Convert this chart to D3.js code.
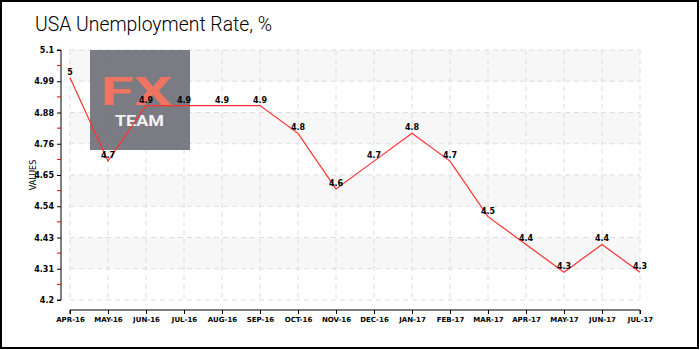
<!DOCTYPE html>
<html>
<head>
<meta charset="utf-8">
<script src="https://cdn.jsdelivr.net/npm/d3@7"></script>
<style>
  html, body { margin: 0; padding: 0; background: #fff; }
  svg text { font-family: "DejaVu Sans", sans-serif; }
</style>
</head>
<body>
<svg id="chart" width="700" height="350"></svg>
<script>
// Monthly US unemployment rate, April 2016 – July 2017
const months = ["APR-16","MAY-16","JUN-16","JUL-16","AUG-16","SEP-16","OCT-16","NOV-16",
                "DEC-16","JAN-17","FEB-17","MAR-17","APR-17","MAY-17","JUN-17","JUL-17"];
const rates = [5, 4.7, 4.9, 4.9, 4.9, 4.9, 4.8, 4.6, 4.7, 4.8, 4.7, 4.5, 4.4, 4.3, 4.4, 4.3];
const yTicks = [4.2, 4.3125, 4.425, 4.5375, 4.65, 4.7625, 4.875, 4.9875, 5.1];
const yTickLabels = ["4.2","4.31","4.43","4.54","4.65","4.76","4.88","4.99","5.1"];

const svg = d3.select("#chart");
const plotLeft = 70, plotRight = 640, plotTop = 50, plotBottom = 300;

const x = d3.scalePoint().domain(months).range([plotLeft, plotRight]);
const y = d3.scaleLinear().domain([4.2, 5.1]).range([plotBottom, plotTop]);

// outer frame
svg.append("rect").attr("x", 1).attr("y", 1).attr("width", 697).attr("height", 347)
  .attr("fill", "#fff").attr("stroke", "#000").attr("stroke-width", 2);

// title
svg.append("text").attr("x", 35).attr("y", 31)
  .style("font-family", "Roboto, sans-serif").style("font-weight", 300)
  .style("font-size", "20px").attr("fill", "#000")
  .attr("textLength", 237).attr("lengthAdjust", "spacingAndGlyphs")
  .text("USA Unemployment Rate, %");

// alternating bands between y ticks (topmost band shaded)
const bands = d3.range(yTicks.length - 1).map(i => [yTicks[i], yTicks[i + 1], i]);
svg.append("g").selectAll("rect").data(bands).join("rect")
  .attr("x", plotLeft).attr("width", plotRight - plotLeft)
  .attr("y", d => y(d[1])).attr("height", d => y(d[0]) - y(d[1]))
  .attr("fill", d => (d[2] % 2 === 1) ? "#f7f7f7" : "none");

// dashed grid
const grid = svg.append("g").attr("stroke", "#ddd").attr("stroke-dasharray", "5,4").attr("stroke-width", 1);
grid.selectAll("line.v").data(months).join("line").attr("class", "v")
  .attr("x1", d => x(d)).attr("x2", d => x(d)).attr("y1", plotTop).attr("y2", plotBottom);
grid.selectAll("line.h").data(yTicks).join("line").attr("class", "h")
  .attr("x1", plotLeft).attr("x2", plotRight).attr("y1", d => y(d)).attr("y2", d => y(d));

// watermark logo
const logo = svg.append("g");
logo.append("rect").attr("x", 90).attr("y", 50).attr("width", 100).attr("height", 100)
  .attr("fill", "#74747c").attr("opacity", 0.95);
logo.append("text").attr("x", 101).attr("y", 105)
  .style("font-family", "Roboto, sans-serif").style("font-size", "39px").style("font-weight", 700)
  .attr("fill", "#f07462").attr("textLength", 71).attr("lengthAdjust", "spacingAndGlyphs").text("FX");
logo.append("text").attr("x", 115).attr("y", 126)
  .style("font-family", "Roboto, sans-serif").style("font-size", "14px").style("font-weight", 700)
  .attr("fill", "#f2f2f2").attr("textLength", 49).attr("lengthAdjust", "spacingAndGlyphs").text("TEAM");

// y axis
const yAxis = svg.append("g").attr("transform", `translate(61,0)`)
  .call(d3.axisLeft(y).tickValues(yTicks).tickFormat((d, i) => yTickLabels[i]).tickSize(4).tickPadding(3));
yAxis.select(".domain").attr("d", `M-4,${plotTop}H0V${plotBottom}H-4`).attr("stroke", "#000");
yAxis.selectAll("text").style("font-size", "8px").style("font-weight", "bold").attr("fill", "#000");
// red minor ticks between labels
yAxis.selectAll("line.minor").data(d3.range(yTicks.length - 1)).join("line").attr("class", "minor")
  .attr("x1", -4).attr("x2", 0)
  .attr("y1", i => y((yTicks[i] + yTicks[i + 1]) / 2)).attr("y2", i => y((yTicks[i] + yTicks[i + 1]) / 2))
  .attr("stroke", "#e00000");

svg.append("text").attr("transform", "translate(36,175) rotate(-90)").attr("text-anchor", "middle")
  .style("font-size", "8px").attr("fill", "#000").text("VALUES");

// x axis
const xAxis = svg.append("g").attr("transform", `translate(0,310)`)
  .call(d3.axisBottom(x).tickSize(4).tickSizeOuter(0).tickPadding(3));
xAxis.select(".domain").attr("d", `M${plotLeft},4V0H${plotRight}V4`).attr("stroke", "#000");
xAxis.selectAll("text").style("font-size", "7px").style("font-weight", "bold").attr("fill", "#000");

// series line
const line = d3.line().x((d, i) => x(months[i])).y(d => y(d));
svg.append("path").datum(rates).attr("d", line)
  .attr("fill", "none").attr("stroke", "#ff3030").attr("stroke-width", 1.2);

// value labels
svg.append("g").selectAll("text").data(rates).join("text")
  .attr("x", (d, i) => x(months[i])).attr("y", d => y(d) - 3)
  .attr("text-anchor", "middle").style("font-size", "8px").style("font-weight", "bold")
  .attr("fill", "#000").text(d => d);
</script>
</body>
</html>
